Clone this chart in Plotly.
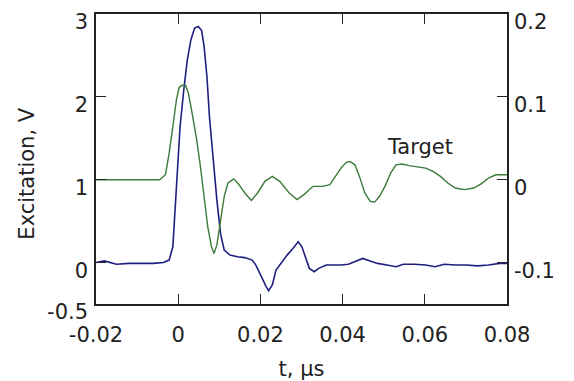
import plotly.graph_objects as go

# Excitation (left axis, V)
t_exc = [-0.02, -0.018, -0.015, -0.012, -0.009, -0.006, -0.0036, -0.0022, -0.0013, -0.0009, -0.0002,
         0.00045, 0.00135, 0.0022, 0.0031, 0.004, 0.0049, 0.0057, 0.0063, 0.007, 0.0076, 0.0085,
         0.0094, 0.0103, 0.0112, 0.0126, 0.0144, 0.0162, 0.018, 0.0189, 0.0202, 0.0214, 0.022,
         0.0229, 0.0238, 0.0252, 0.0265, 0.0279, 0.0292, 0.0301, 0.031, 0.0319, 0.0331, 0.0342,
         0.036, 0.0378, 0.0396, 0.0414, 0.0431, 0.0449, 0.0467, 0.0485, 0.0508, 0.053, 0.0548,
         0.0575, 0.0602, 0.0625, 0.0647, 0.0674, 0.0701, 0.0728, 0.0755, 0.0782, 0.08]
v_exc = [0.0, 0.02, -0.02, -0.01, -0.01, -0.01, 0.0, 0.03, 0.19, 0.55, 1.16,
         1.64, 2.08, 2.44, 2.69, 2.83, 2.85, 2.80, 2.61, 2.24, 1.76, 1.24,
         0.76, 0.35, 0.15, 0.09, 0.07, 0.06, 0.03, -0.03, -0.17, -0.29, -0.34,
         -0.27, -0.09, 0.01, 0.09, 0.17, 0.25, 0.19, 0.07, -0.07, -0.11, -0.07,
         -0.03, -0.03, -0.03, -0.02, 0.01, 0.05, 0.02, -0.01, -0.03, -0.05, -0.02,
         -0.02, -0.03, -0.05, -0.02, -0.03, -0.03, -0.04, -0.03, -0.01, -0.01]

# Target (right axis)
t_tgt = [-0.02, -0.0045, -0.0031, -0.0022, -0.0013, -0.00045, 0.0002, 0.0009, 0.0018, 0.0025,
         0.0034, 0.0045, 0.0054, 0.0063, 0.0072, 0.0081, 0.0087, 0.0094, 0.0103, 0.0112, 0.0121,
         0.0135, 0.0148, 0.0162, 0.0178, 0.0193, 0.0211, 0.0229, 0.0247, 0.027, 0.0289, 0.0306,
         0.0328, 0.0351, 0.0369, 0.0382, 0.0396, 0.0409, 0.0418, 0.043, 0.0441, 0.0454, 0.0467,
         0.0478, 0.049, 0.0503, 0.0517, 0.053, 0.0544, 0.0562, 0.0584, 0.0602, 0.062, 0.0638,
         0.0656, 0.0674, 0.0697, 0.0719, 0.0737, 0.0755, 0.0773, 0.0791, 0.08]
v_tgt = [0.0, 0.0, 0.006, 0.032, 0.064, 0.096, 0.111, 0.114, 0.114, 0.104,
         0.080, 0.048, 0.016, -0.020, -0.057, -0.081, -0.089, -0.079, -0.049, -0.020, -0.004,
         0.001, -0.006, -0.016, -0.025, -0.016, -0.002, 0.004, -0.002, -0.016, -0.024, -0.018,
         -0.008, -0.008, -0.006, 0.004, 0.014, 0.021, 0.022, 0.018, 0.004, -0.016, -0.026,
         -0.027, -0.020, -0.008, 0.008, 0.018, 0.019, 0.017, 0.015, 0.014, 0.010, 0.004,
         -0.004, -0.010, -0.012, -0.010, -0.005, 0.002, 0.006, 0.006, 0.006]

x_ticks = [-0.02, 0, 0.02, 0.04, 0.06, 0.08]
x_labels = ["-0.02", "0", "0.02", "0.04", "0.06", "0.08"]
yl_ticks = [-0.5, 0, 1, 2, 3]
yl_labels = ["-0.5", "0", "1", "2", "3"]
yr_ticks = [-0.1, 0, 0.1, 0.2]
yr_labels = ["-0.1", "0", "0.1", "0.2"]

FONT = "DejaVu Sans, Liberation Sans, sans-serif"
TXT = "#222222"
FS = 21

fig = go.Figure()
fig.add_trace(go.Scatter(x=t_tgt, y=v_tgt, mode="lines", yaxis="y2",
                         line=dict(color="#3a7a3a", width=1.4), showlegend=False))
fig.add_trace(go.Scatter(x=t_exc, y=v_exc, mode="lines", yaxis="y",
                         line=dict(color="#1f1f80", width=1.6), showlegend=False))

axis_common = dict(showgrid=False, zeroline=False, showline=True, linecolor="#222222", linewidth=1.5,
                   ticks="inside", ticklen=10, tickwidth=1.3, tickcolor="#222222", automargin=False,
                   tickfont=dict(family=FONT, size=FS, color=TXT))

fig.update_layout(
    width=574, height=381,
    margin=dict(l=96, r=67, t=14, b=77),
    paper_bgcolor="white", plot_bgcolor="white",
    font=dict(family=FONT, size=FS, color=TXT),
    xaxis=dict(range=[-0.02, 0.08], tickvals=x_ticks, ticktext=x_labels, mirror="ticks",
               ticklabelstandoff=11,
               title=dict(text="t, μs", font=dict(family=FONT, size=FS, color=TXT), standoff=19),
               **axis_common),
    yaxis=dict(range=[-0.5, 3], tickvals=yl_ticks, ticktext=yl_labels, mirror=True,
               ticklabelshift=8, ticklabelstandoff=2,
               **axis_common),
    yaxis2=dict(range=[-0.15, 0.2], tickvals=yr_ticks, ticktext=yr_labels, overlaying="y", side="right",
                ticklabelshift=8, ticklabelstandoff=1,
                **axis_common),
    annotations=[
        dict(text="Excitation, V", textangle=-90, xref="paper", yref="paper",
             x=-0.17, y=0.45, xanchor="center", yanchor="middle", showarrow=False,
             font=dict(family=FONT, size=FS, color=TXT)),
        dict(text="Target", xref="x", yref="y2", x=0.0588, y=0.040, showarrow=False,
             xanchor="center", yanchor="middle", font=dict(family=FONT, size=FS, color=TXT)),
    ],
)

fig.write_html("out.html")
